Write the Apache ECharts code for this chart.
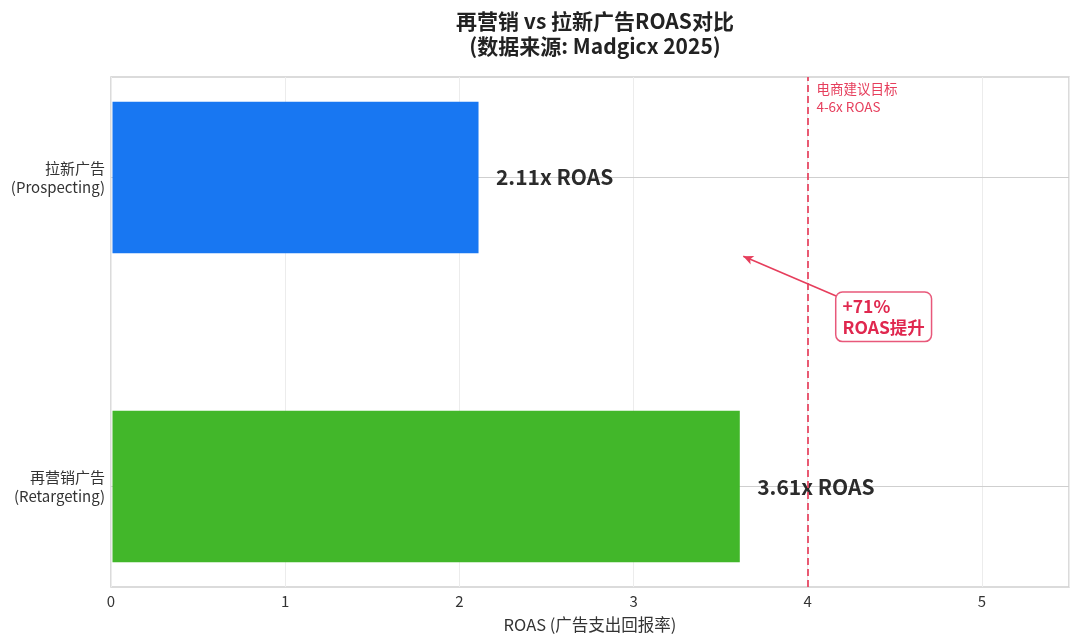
<!DOCTYPE html>
<html>
<head>
<meta charset="utf-8">
<script src="https://cdn.jsdelivr.net/npm/echarts@6/dist/echarts.min.js"></script>
<style>
  html, body { margin: 0; padding: 0; background: #fff; }
  #chart { width: 1080px; height: 643px; }
</style>
</head>
<body>
<div id="chart"></div>
<script>
const FONT = '"Noto Sans CJK SC", "Noto Sans", sans-serif';

// bottom -> top
const categories = ['再营销广告\n(Retargeting)', '拉新广告\n(Prospecting)'];
const roas = [3.61, 2.11];
const barColors = ['#42B72A', '#1877F2'];
const xTicks = [0, 1, 2, 3, 4, 5];
const targetRoas = 4;
const upliftText = '+71%\nROAS提升';

const chart = echarts.init(document.getElementById('chart'));

const barData = roas.map((v, i) => [v, i]);

const options = {
  backgroundColor: '#fff',
  textStyle: { fontFamily: FONT },
  title: {
    text: '再营销 vs 拉新广告ROAS对比\n(数据来源: Madgicx 2025)',
    left: 590,
    top: 4,
    textAlign: 'center',
    textStyle: { fontFamily: FONT, fontSize: 21, fontWeight: 'bold', color: '#222', lineHeight: 25 }
  },
  grid: {
    left: 111, right: 11, top: 77, bottom: 56,
    show: true, borderColor: '#d0d0d0', borderWidth: 1.5
  },
  xAxis: {
    type: 'value',
    min: 0, max: 5.5, interval: 1,
    name: 'ROAS (广告支出回报率)',
    nameLocation: 'middle',
    nameGap: 29,
    nameTextStyle: { fontFamily: FONT, fontSize: 16.5, color: '#333' },
    axisLine: { show: false },
    axisTick: { show: false },
    axisLabel: {
      margin: 7, fontSize: 15, color: '#333', fontFamily: FONT,
      formatter: v => (xTicks.includes(v) ? String(v) : '')
    },
    splitLine: { show: true, lineStyle: { color: '#ececec', width: 1 } }
  },
  yAxis: {
    type: 'value',
    min: -0.325, max: 1.325,
    axisLine: { show: false },
    axisTick: { show: false },
    splitLine: { show: false },
    axisLabel: {
      customValues: [0, 1],
      formatter: v => categories[Math.round(v)] || '',
      fontSize: 15, color: '#333', lineHeight: 19, align: 'right', margin: 6, fontFamily: FONT
    }
  },
  series: [
    {
      // grid lines at category centres
      type: 'line',
      data: [],
      z: 1,
      silent: true,
      markLine: {
        z: 1,
        symbol: 'none',
        silent: true,
        label: { show: false },
        data: [
          { yAxis: 0, lineStyle: { color: '#cfcfcf', width: 1.2, type: 'solid' } },
          { yAxis: 1, lineStyle: { color: '#cfcfcf', width: 1.2, type: 'solid' } }
        ]
      }
    },
    {
      type: 'custom',
      z: 3,
      data: barData,
      renderItem(params, api) {
        const v = api.value(0);
        const y = api.value(1);
        const p0 = api.coord([0, y + 0.245]);
        const p1 = api.coord([v, y - 0.245]);
        const lp = api.coord([v + 0.1, y]);
        return {
          type: 'group',
          children: [
            {
              type: 'rect',
              shape: { x: p0[0] + 1.5, y: p0[1], width: p1[0] - p0[0] - 1.5, height: p1[1] - p0[1] },
              style: { fill: barColors[params.dataIndex] }
            },
            {
              type: 'text',
              style: {
                text: v.toFixed(2) + 'x ROAS',
                x: lp[0], y: lp[1],
                verticalAlign: 'middle', align: 'left',
                font: 'bold 21px ' + FONT,
                fill: '#2b2b2b'
              }
            }
          ]
        };
      }
    },
    {
      // target line + annotation
      type: 'line',
      data: [],
      z: 4,
      silent: true,
      markLine: {
        z: 4,
        silent: true,
        symbol: 'none',
        label: { show: false },
        data: [
          { xAxis: targetRoas, lineStyle: { color: '#E63E5C', width: 2, type: [7, 4], opacity: 0.85 } },
          [
            { coord: [4.17, 0.615], symbol: 'none' },
            { coord: [3.63, 0.745], symbol: 'arrow', symbolSize: [7, 10] }
          ]
        ],
        lineStyle: { color: '#E63E5C', width: 1.6, type: 'solid' }
      },
      markPoint: {
        z: 5,
        silent: true,
        symbol: 'circle',
        symbolSize: 0,
        data: [
          {
            coord: [4.05, 1.285],
            label: {
              show: true, position: 'right', distance: 0,
              formatter: '电商建议目标\n4-6x ROAS',
              color: '#E63E5C', fontSize: 13.5, lineHeight: 18, align: 'left',
              verticalAlign: 'middle', fontFamily: FONT, offset: [0, 9]
            }
          },
          {
            coord: [4.165, 0.549],
            label: {
              show: true, position: 'inside',
              formatter: upliftText,
              color: '#E0284F', fontSize: 17.5, fontWeight: 'bold', lineHeight: 21,
              align: 'left', fontFamily: FONT,
              backgroundColor: '#fff', borderColor: '#E8587A', borderWidth: 1.5,
              borderRadius: 6, padding: [3, 6, 3, 6]
            }
          }
        ]
      }
    }
  ]
};

chart.setOption(options);
</script>
</body>
</html>
